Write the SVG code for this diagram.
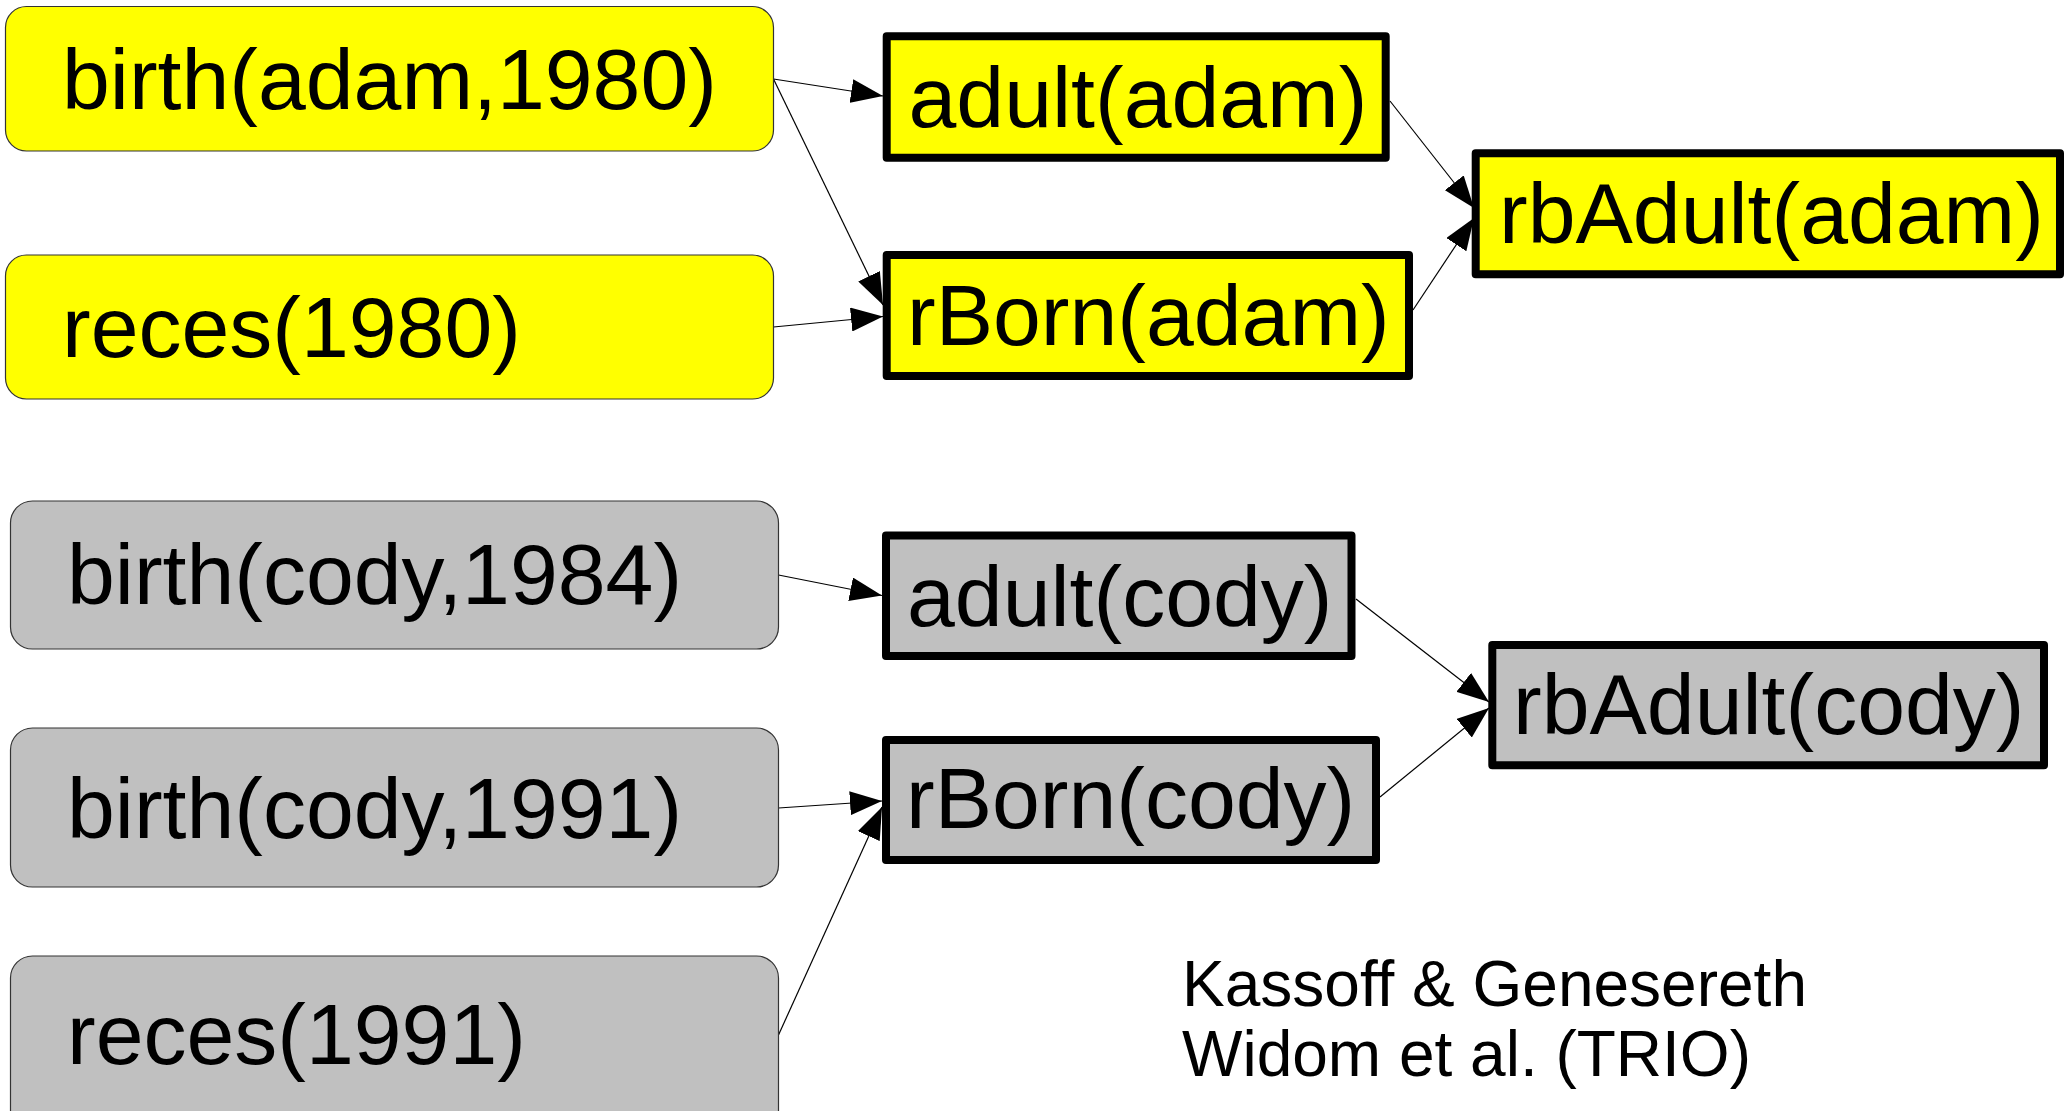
<svg xmlns="http://www.w3.org/2000/svg" width="2067" height="1111" viewBox="0 0 2067 1111">
<style>
.src{stroke:#333;stroke-width:1.2}
.der{stroke:#000;stroke-width:8;stroke-linejoin:round}
.y{fill:#ffff00}
.g{fill:#c0c0c0}
.t{font-family:"Liberation Sans",Arial,sans-serif;font-size:86px;fill:#000}
.cap{font-family:"Liberation Sans",Arial,sans-serif;font-size:64px;fill:#000}
.e{stroke:#000;stroke-width:1.2;fill:none;marker-end:url(#ah)}
</style>
<defs>
<marker id="ah" viewBox="0 0 32 24" refX="32" refY="12" markerWidth="32" markerHeight="24" markerUnits="userSpaceOnUse" orient="auto">
<path d="M0,0 L32,12 L0,24 z" fill="#000"/>
</marker>
</defs>
<rect width="2067" height="1111" fill="#fff"/>
<g id="connectors">
<line class="e" x1="773.5" y1="79" x2="883" y2="96"/>
<line class="e" x1="773.5" y1="79" x2="883" y2="305"/>
<line class="e" x1="773.5" y1="327" x2="883" y2="316.5"/>
<line class="e" x1="1390" y1="101" x2="1474" y2="208"/>
<line class="e" x1="1413" y1="310" x2="1474" y2="218"/>
<line class="e" x1="778.5" y1="575" x2="882" y2="595.5"/>
<line class="e" x1="778.5" y1="808" x2="882" y2="801"/>
<line class="e" x1="778.5" y1="1035" x2="882" y2="807"/>
<line class="e" x1="1356" y1="599" x2="1489" y2="702"/>
<line class="e" x1="1380" y1="797" x2="1489" y2="708"/>
</g>
<g id="n_birth_adam_1980">
<rect class="src y" x="5.5" y="6.5" width="768" height="144.5" rx="21"/>
<text class="t" x="62" y="109">birth(adam,1980)</text>
</g>
<g id="n_reces_1980">
<rect class="src y" x="5.5" y="255" width="768" height="144" rx="21"/>
<text class="t" x="62" y="357">reces(1980)</text>
</g>
<g id="n_adult_adam">
<rect class="der y" x="886.7" y="36.3" width="499" height="121.4"/>
<text class="t" x="908.5" y="127">adult(adam)</text>
</g>
<g id="n_rBorn_adam">
<rect class="der y" x="886.7" y="255" width="522.3" height="121"/>
<text class="t" x="907" y="345">rBorn(adam)</text>
</g>
<g id="n_rbAdult_adam">
<rect class="der y" x="1475.7" y="153.3" width="584.3" height="121"/>
<text class="t" x="1499" y="243">rbAdult(adam)</text>
</g>
<g id="n_birth_cody_1984">
<rect class="src g" x="10.5" y="501" width="768" height="148" rx="22"/>
<text class="t" x="67" y="604">birth(cody,1984)</text>
</g>
<g id="n_birth_cody_1991">
<rect class="src g" x="10.5" y="728" width="768" height="159" rx="22"/>
<text class="t" x="67" y="838">birth(cody,1991)</text>
</g>
<g id="n_reces_1991">
<rect class="src g" x="10.5" y="956" width="768" height="190" rx="22"/>
<text class="t" x="67" y="1063.5">reces(1991)</text>
</g>
<g id="n_adult_cody">
<rect class="der g" x="886" y="535.5" width="465.5" height="120.5"/>
<text class="t" x="907" y="626">adult(cody)</text>
</g>
<g id="n_rBorn_cody">
<rect class="der g" x="886" y="740" width="490" height="120"/>
<text class="t" x="906" y="828">rBorn(cody)</text>
</g>
<g id="n_rbAdult_cody">
<rect class="der g" x="1492.3" y="645" width="551.7" height="120.3"/>
<text class="t" x="1513" y="733.5">rbAdult(cody)</text>
</g>
<g id="caption">
<text class="cap" x="1182" y="1006">Kassoff &amp; Genesereth</text>
<text class="cap" x="1182" y="1075.5">Widom et al. (TRIO)</text>
</g>
</svg>
